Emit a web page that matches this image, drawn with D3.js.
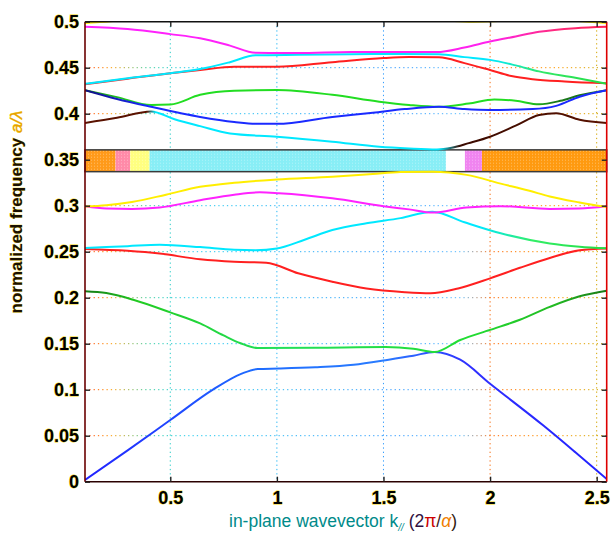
<!DOCTYPE html>
<html>
<head>
<meta charset="utf-8">
<script src="https://cdn.jsdelivr.net/npm/d3@7"></script>
<style>
  body { margin: 0; background: #fff; }
  text { font-family: Arial, "Liberation Sans", sans-serif; }
</style>
</head>
<body>
<div id="chart"></div>
<script>
// ticks
const xTicks = [0.5, 1, 1.5, 2, 2.5];
const yTicks = [0, 0.05, 0.1, 0.15, 0.2, 0.25, 0.3, 0.35, 0.4, 0.45, 0.5];

// photonic band gap (y range) and the coloured pieces along x
const gapRange = [0.337, 0.3607];
const gapBreaks = [0.1, 0.243, 0.312, 0.403, 1.793, 1.882, 1.962, 2.547];

// bands, [k, a/lambda]
const band1 = [[0.1,0.002],[0.3,0.034],[0.5,0.067],[0.7,0.1],[0.835,0.1175],[0.91,0.1225],[1.01,0.123],[1.18,0.1243],[1.36,0.127],[1.51,0.132],[1.64,0.137],[1.74,0.141],[1.86,0.1326],[2.0,0.1065],[2.25,0.061],[2.4,0.032],[2.547,0.003]];
const band2 = [[0.1,0.207],[0.2,0.205],[0.33,0.1975],[0.5,0.184],[0.64,0.172],[0.75,0.159],[0.83,0.1505],[0.91,0.1453],[1.18,0.1456],[1.51,0.1464],[1.64,0.1446],[1.74,0.141],[1.86,0.154],[2.0,0.165],[2.14,0.176],[2.28,0.19],[2.42,0.2015],[2.547,0.2075]];
const band3 = [[0.1,0.253],[0.3,0.251],[0.45,0.248],[0.64,0.2417],[0.8,0.239],[0.95,0.238],[1.1,0.2265],[1.26,0.2174],[1.42,0.21],[1.6,0.206],[1.72,0.2048],[1.85,0.21],[2.0,0.221],[2.14,0.2325],[2.28,0.2432],[2.42,0.2515],[2.547,0.2535]];
const band4 = [[0.1,0.254],[0.3,0.256],[0.45,0.2575],[0.64,0.255],[0.8,0.252],[0.9,0.2515],[1.0,0.2535],[1.13,0.263],[1.26,0.2735],[1.42,0.281],[1.58,0.2865],[1.73,0.2935],[1.88,0.282],[2.05,0.27],[2.28,0.259],[2.42,0.2555],[2.547,0.2537]];
const band5 = [[0.1,0.2995],[0.2,0.297],[0.32,0.2965],[0.45,0.298],[0.64,0.306],[0.8,0.312],[0.92,0.3145],[1.01,0.3135],[1.26,0.308],[1.5,0.2995],[1.62,0.296],[1.73,0.2925],[1.89,0.298],[2.05,0.2995],[2.28,0.2965],[2.42,0.297],[2.547,0.2995]];
const band6 = [[0.1,0.299],[0.2,0.3005],[0.32,0.304],[0.48,0.312],[0.64,0.3205],[0.8,0.325],[1.0,0.3285],[1.26,0.3315],[1.45,0.3345],[1.58,0.3365],[1.73,0.337],[1.89,0.3335],[2.05,0.324],[2.18,0.3165],[2.28,0.31],[2.42,0.3035],[2.547,0.2985]];
const band7 = [[0.1,0.39],[0.25,0.3955],[0.41,0.4025],[0.52,0.394],[0.64,0.3865],[0.78,0.3785],[1.0,0.375],[1.26,0.3695],[1.48,0.364],[1.62,0.3622],[1.75,0.3612],[1.82,0.363],[1.9,0.368],[2.0,0.375],[2.12,0.387],[2.23,0.3985],[2.31,0.4005],[2.42,0.3935],[2.547,0.39]];
const band8 = [[0.1,0.4255],[0.25,0.418],[0.41,0.4095],[0.5,0.41],[0.64,0.4205],[0.8,0.425],[1.0,0.4258],[1.26,0.4205],[1.48,0.413],[1.62,0.4095],[1.76,0.4075],[1.9,0.411],[2.02,0.4155],[2.12,0.414],[2.23,0.4102],[2.33,0.414],[2.42,0.42],[2.547,0.4255]];
const band9 = [[0.1,0.4255],[0.25,0.416],[0.41,0.4075],[0.64,0.3965],[0.8,0.391],[0.9,0.389],[1.0,0.389],[1.26,0.3965],[1.45,0.401],[1.6,0.405],[1.76,0.4075],[1.88,0.405],[2.0,0.404],[2.2,0.405],[2.31,0.4085],[2.42,0.4185],[2.547,0.4255]];
const band10 = [[0.1,0.432],[0.3,0.438],[0.5,0.444],[0.64,0.4475],[0.8,0.451],[1.0,0.451],[1.26,0.456],[1.5,0.4605],[1.62,0.4615],[1.76,0.4613],[1.88,0.455],[2.0,0.4475],[2.1,0.441],[2.2,0.4375],[2.35,0.435],[2.547,0.433]];
const band11 = [[0.1,0.4325],[0.3,0.4385],[0.5,0.444],[0.64,0.4485],[0.78,0.456],[0.9,0.4635],[1.1,0.464],[1.35,0.4645],[1.58,0.465],[1.76,0.4645],[1.88,0.4615],[2.0,0.4585],[2.12,0.4525],[2.23,0.446],[2.4,0.439],[2.547,0.4325]];
const band12 = [[0.1,0.4945],[0.3,0.492],[0.5,0.4865],[0.64,0.482],[0.78,0.474],[0.9,0.4662],[1.1,0.466],[1.35,0.4672],[1.62,0.4672],[1.75,0.467],[1.88,0.472],[2.0,0.4785],[2.12,0.484],[2.23,0.489],[2.4,0.493],[2.547,0.4945]];
const band13 = [[0.1,0.4985],[0.22,0.5005],[0.4,0.505],[0.8,0.51],[1.3,0.508],[1.75,0.502],[1.9,0.5],[2.0,0.5005],[2.2,0.503],[2.43,0.5005],[2.547,0.4985]];

const bands = [band1, band2, band3, band4, band5, band6, band7, band8, band9, band10, band11, band12, band13];

// colour along each band (k, colour)
const bandColors = [
  [[0.1,"#2222ff"],[0.9,"#1e6cff"],[1.5,"#2a7cff"],[1.9,"#3030ff"],[2.547,"#2222ff"]],
  [[0.1,"#157a15"],[0.35,"#22cc22"],[1.0,"#22e05a"],[1.9,"#22dd33"],[2.3,"#22bb22"],[2.547,"#187818"]],
  [[0.1,"#ff2020"],[2.547,"#ff2020"]],
  [[0.1,"#00e8ff"],[1.95,"#00e8ff"],[2.2,"#33ee66"],[2.547,"#22dd44"]],
  [[0.1,"#ff22ff"],[2.547,"#ff22ff"]],
  [[0.1,"#ffee00"],[2.547,"#ffee00"]],
  [[0.1,"#5a1200"],[0.39,"#5a1200"],[0.43,"#00e8ff"],[1.76,"#00e8ff"],[1.86,"#3a0a00"],[2.547,"#5a1200"]],
  [[0.1,"#1b8a1b"],[0.35,"#22dd22"],[2.15,"#22dd22"],[2.3,"#1a7a1a"],[2.547,"#1a6a1a"]],
  [[0.1,"#101080"],[0.4,"#1a2aff"],[2.547,"#1a2aff"]],
  [[0.1,"#ff2020"],[2.547,"#ff2020"]],
  [[0.1,"#00e8ff"],[2.0,"#00e8ff"],[2.25,"#33e866"],[2.547,"#22dd44"]],
  [[0.1,"#ff22ff"],[2.0,"#ff22ee"],[2.3,"#ff2a80"],[2.547,"#ff2050"]],
  [[0.1,"#ffee00"],[2.547,"#ffee00"]]
];
const gapColors = ["#ff9a1a", "#ff8aa8", "#ffff80", "#88eef6", "#ffffff", "#f084f0", "#ff9a10"];

const margin = { top: 21.7, right: 7.3, bottom: 56.3, left: 85 };
const width = 614 - margin.left - margin.right;
const height = 538 - margin.top - margin.bottom;

const svgRoot = d3.select("#chart")
  .append("svg")
  .attr("width", 614)
  .attr("height", 538);
const svg = svgRoot.append("g")
  .attr("transform", `translate(${margin.left},${margin.top})`);

const x = d3.scaleLinear().domain([0.1, 2.547]).range([0, width]);
const y = d3.scaleLinear().domain([0, 0.5]).range([height, 0]);

const defs = svgRoot.append("defs");
defs.append("clipPath").attr("id", "plot")
  .append("rect").attr("width", width).attr("height", height);

// grid colours vary along the axis like the original
const gridStops = [[0, "#ff3300"], [0.05, "#ff9900"], [0.12, "#33cc99"], [0.2, "#22ccee"], [0.6, "#3399ff"], [0.72, "#55bbff"], [0.78, "#ff6600"], [0.9, "#ff9900"], [1, "#c8a800"]];
const gridGrad = defs.append("linearGradient").attr("id", "gridGrad")
  .attr("gradientUnits", "userSpaceOnUse")
  .attr("x1", 0).attr("x2", width).attr("y1", 0).attr("y2", 0);
gridStops.forEach(s => gridGrad.append("stop").attr("offset", s[0]).attr("stop-color", s[1]));
const vGridColor = d3.scaleLinear()
  .domain(gridStops.map(s => x.invert(s[0] * width)))
  .range(gridStops.map(s => s[1]));

svg.append("g").selectAll("line")
  .data(yTicks.filter(d => d > 0 && d < 0.5))
  .enter().append("line")
  .attr("x1", 0).attr("x2", width)
  .attr("y1", d => y(d)).attr("y2", d => y(d))
  .attr("stroke", "url(#gridGrad)")
  .attr("stroke-dasharray", "1.3,3")
  .attr("stroke-width", 1);

svg.append("g").selectAll("line")
  .data(xTicks)
  .enter().append("line")
  .attr("x1", d => x(d)).attr("x2", d => x(d))
  .attr("y1", 0).attr("y2", height)
  .attr("stroke", d => vGridColor(d))
  .attr("stroke-dasharray", "1.3,3")
  .attr("stroke-width", 1);

// band gap strip
const dots = defs.append("pattern").attr("id", "dots")
  .attr("patternUnits", "userSpaceOnUse").attr("width", 3).attr("height", 3);
dots.append("rect").attr("width", 1).attr("height", 1).attr("fill", "#fff").attr("opacity", 0.35);

const gapPieces = gapColors.map((c, i) => ({ x0: gapBreaks[i], x1: gapBreaks[i + 1], c }));
const gap = svg.append("g");
gap.selectAll("rect.piece")
  .data(gapPieces)
  .enter().append("rect")
  .attr("class", "piece")
  .attr("x", d => x(d.x0))
  .attr("width", d => x(d.x1) - x(d.x0))
  .attr("y", y(gapRange[1]))
  .attr("height", y(gapRange[0]) - y(gapRange[1]))
  .attr("fill", d => d.c);
gap.append("rect")
  .attr("x", 0).attr("width", width)
  .attr("y", y(gapRange[1]))
  .attr("height", y(gapRange[0]) - y(gapRange[1]))
  .attr("fill", "url(#dots)")
  .attr("stroke", "#3a3a3a")
  .attr("stroke-width", 1.5);

// bands
bandColors.forEach((stops, i) => {
  const g = defs.append("linearGradient").attr("id", "band" + i)
    .attr("gradientUnits", "userSpaceOnUse")
    .attr("x1", 0).attr("x2", width).attr("y1", 0).attr("y2", 0);
  stops.forEach(s => g.append("stop").attr("offset", x(s[0]) / width).attr("stop-color", s[1]));
});

const line = d3.line()
  .x(d => x(d[0]))
  .y(d => y(d[1]))
  .curve(d3.curveMonotoneX);

svg.append("g").attr("clip-path", "url(#plot)")
  .selectAll("path")
  .data(bands)
  .enter().append("path")
  .attr("d", line)
  .attr("fill", "none")
  .attr("stroke", (d, i) => `url(#band${i})`)
  .attr("stroke-width", 2);

// frame
const frame = [
  { x1: 0, y1: 0, x2: width, y2: 0, c: "#111" },
  { x1: 0, y1: height, x2: width, y2: height, c: "#2a0000" },
  { x1: 0, y1: 0, x2: 0, y2: height, c: "#6a0000" },
  { x1: width, y1: 0, x2: width, y2: height, c: "#dd0000" }
];
svg.append("g").selectAll("line")
  .data(frame)
  .enter().append("line")
  .attr("x1", d => d.x1).attr("y1", d => d.y1)
  .attr("x2", d => d.x2).attr("y2", d => d.y2)
  .attr("stroke", d => d.c)
  .attr("stroke-width", 1.6);

// axes (ticks inside, matlab style)
const fmt = d => String(d);
const xAxis = svg.append("g")
  .attr("transform", `translate(0,${height})`)
  .call(d3.axisBottom(x).tickValues(xTicks).tickSize(-5).tickPadding(10).tickFormat(fmt));
const yAxis = svg.append("g")
  .call(d3.axisLeft(y).tickValues(yTicks).tickSize(-5).tickPadding(6).tickFormat(fmt));
svg.append("g").call(d3.axisTop(x).tickValues(xTicks).tickSize(-5).tickFormat(""));
svg.append("g").attr("transform", `translate(${width},0)`)
  .call(d3.axisRight(y).tickValues(yTicks).tickSize(-5).tickFormat(""));

svg.selectAll(".domain").remove();
svg.selectAll(".tick line").attr("stroke", "#222").attr("stroke-width", 1.4);
[xAxis, yAxis].forEach(a => a.selectAll("text")
  .attr("font-size", 18)
  .attr("font-weight", "bold")
  .attr("fill", "#000")
  .attr("stroke", "#f2d400")
  .attr("stroke-width", 0.8)
  .attr("paint-order", "stroke"));

// axis titles
const xTitle = svgRoot.append("text")
  .attr("x", 229).attr("y", 527)
  .attr("font-size", 17.5)
  .attr("fill", "#008a8a");
xTitle.append("tspan").text("in-plane wavevector k");
xTitle.append("tspan").attr("font-size", 10).attr("font-style", "italic").attr("dy", 4).text("//");
xTitle.append("tspan").attr("dy", -4).text(" ");
xTitle.append("tspan").attr("fill", "#301040").text("(2");
xTitle.append("tspan").attr("fill", "#cc0000").text("π");
xTitle.append("tspan").attr("fill", "#402020").text("/");
xTitle.append("tspan").attr("fill", "#f08000").attr("font-style", "italic").text("α");
xTitle.append("tspan").attr("fill", "#302010").text(")");

const yTitle = svgRoot.append("text")
  .attr("transform", "translate(22,212) rotate(-90)")
  .attr("text-anchor", "middle")
  .attr("font-size", 17)
  .attr("font-weight", "bold")
  .attr("fill", "#1a1000")
  .attr("stroke", "#f2d400")
  .attr("stroke-width", 0.5)
  .attr("paint-order", "stroke");
yTitle.append("tspan").text("normalized frequency ");
yTitle.append("tspan").attr("fill", "#e8a000").attr("font-style", "italic").attr("font-weight", "normal").text("a/λ");
</script>
</body>
</html>
